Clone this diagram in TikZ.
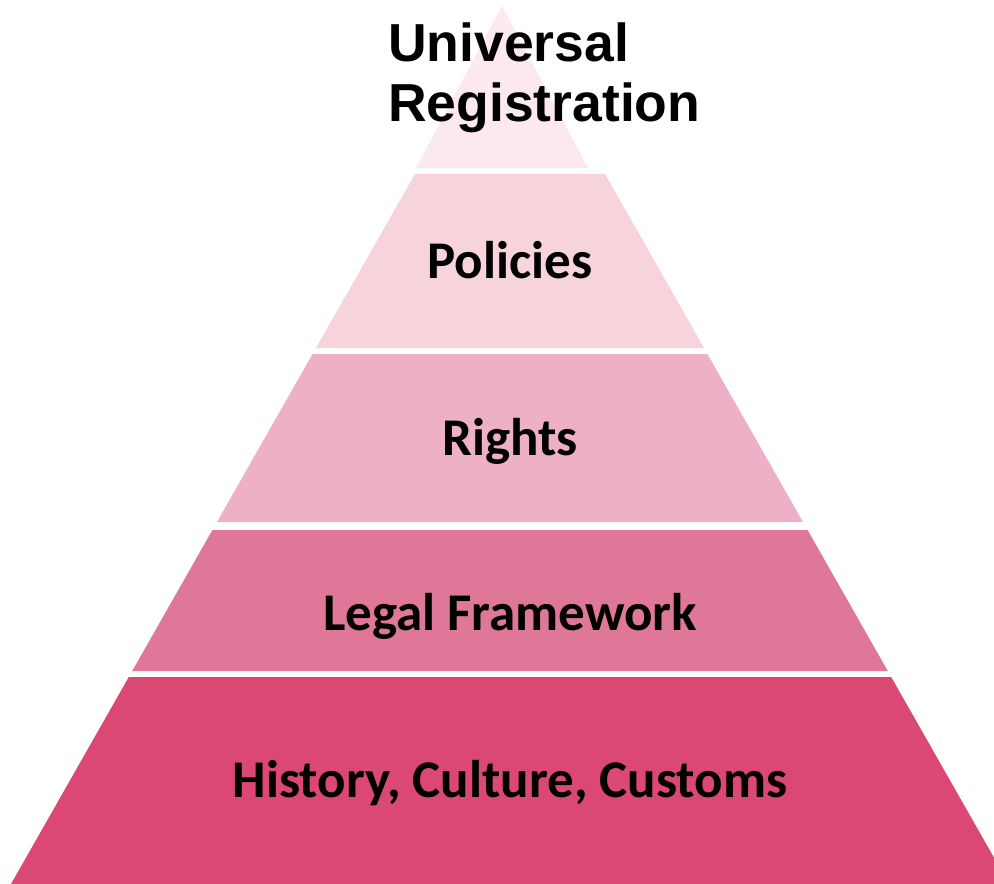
\documentclass[tikz,border=0pt]{standalone}
\usepackage{fontspec}
\setmainfont{Carlito}
\newfontfamily\headfont{Liberation Sans}
\usetikzlibrary{positioning}

\definecolor{tierTop}{HTML}{FBE8F1}
\definecolor{tierPolicies}{HTML}{F7D4DC}
\definecolor{tierRights}{HTML}{EDB0C6}
\definecolor{tierLegal}{HTML}{DF7898}
\definecolor{tierBase}{HTML}{DB4873}

\begin{document}
\begin{tikzpicture}[x=1pt,y=-1pt,
  tier text/.style={font=\bfseries\fontsize{53}{60}\selectfont,anchor=base,inner sep=0pt},
  head text/.style={font=\headfont\bfseries\fontsize{53.5}{60}\selectfont,anchor=base west,inner sep=0pt}]

\useasboundingbox (0,0) rectangle (994,884);
\clip (0,0) rectangle (994,884);

% top of the pyramid
\fill[tierTop] (502,6) -- (588,168) -- (416,168) -- cycle;

% the four lower tiers
\foreach \ytop/\ybot/\col in {174/348/tierPolicies, 354/522/tierRights, 530/671/tierLegal, 677/884/tierBase}
  \fill[\col] ({415-0.569*(\ytop-174)},\ytop) -- ({605+0.569*(\ytop-174)},\ytop)
              -- ({605+0.569*(\ybot-174)},\ybot) -- ({415-0.569*(\ybot-174)},\ybot) -- cycle;

\node[head text] (universal) at (388,61) {Universal};
\node[head text] (registration) at (388,121) {Registration};

\node[tier text] (policies) at (510,278) {Policies};
\node[tier text] (rights) at (510,455) {Rights};
\node[tier text] (legal) at (510,630) {Legal Framework};
\node[tier text] (history) at (510,797) {History, Culture, Customs};

\end{tikzpicture}
\end{document}
